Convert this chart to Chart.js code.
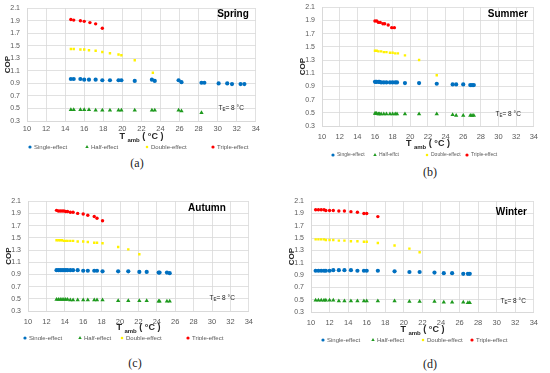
<!DOCTYPE html>
<html>
<head>
<meta charset="utf-8">
<script src="https://cdn.jsdelivr.net/npm/chart.js@4.4.0/dist/chart.umd.min.js"></script>
<style>
    body { margin: 0; background: #fff; width: 550px; height: 373px; position: relative; overflow: hidden; }
    .panel { position: absolute; }
    .cap { position: absolute; font-family: "Liberation Serif", "DejaVu Serif", serif; font-size: 12px; color: #222; transform: translate(-50%, -50%); }
</style>
</head>
<body>
<div class="cap" style="left:137px;top:163px">(a)</div>
<div class="cap" style="left:430px;top:172px">(b)</div>
<div class="cap" style="left:135px;top:363px">(c)</div>
<div class="cap" style="left:430px;top:364px">(d)</div>

<script>
// Axis ticks
const xTicks = [10, 34, 2];      // min, max, step of T amb
const yTicks = [0.3, 2.1, 0.2];  // min, max, step of COP

const seriesNames = ['Single-effect', 'Half-effect', 'Double-effect', 'Triple-effect'];

// Spring (a)
const springSingleT = [14.6, 14.9, 15.6, 16.0, 16.5, 17.2, 17.9, 18.7, 19.6, 19.9, 21.3, 23.1, 23.4, 25.9, 26.2, 28.3, 28.6, 30.1, 31.0, 31.5, 32.4, 32.8];
const springSingleCop = [0.97, 0.97, 0.97, 0.96, 0.96, 0.96, 0.95, 0.95, 0.95, 0.95, 0.94, 0.96, 0.94, 0.95, 0.92, 0.91, 0.91, 0.90, 0.90, 0.89, 0.89, 0.89];
const springHalfT = [14.6, 14.9, 15.6, 16.0, 16.5, 17.2, 17.9, 18.7, 19.6, 19.9, 21.3, 23.1, 23.4, 25.9, 26.2, 28.3];
const springHalfCop = [0.48, 0.48, 0.48, 0.48, 0.48, 0.47, 0.47, 0.47, 0.47, 0.47, 0.47, 0.47, 0.47, 0.47, 0.46, 0.43];
const springDoubleT = [14.6, 14.9, 15.6, 16.0, 16.5, 17.2, 17.9, 18.7, 19.6, 19.9, 21.3, 23.2];
const springDoubleCop = [1.45, 1.45, 1.44, 1.44, 1.43, 1.42, 1.40, 1.38, 1.36, 1.35, 1.27, 1.07];
const springTripleT = [14.6, 14.9, 15.6, 16.0, 16.6, 17.2, 17.9];
const springTripleCop = [1.92, 1.91, 1.90, 1.89, 1.87, 1.85, 1.78];

// Summer (b)
const summerSingleT = [16.0, 16.1, 16.2, 16.4, 16.5, 16.7, 17.0, 17.3, 17.7, 18.0, 18.3, 18.5, 19.4, 21.0, 23.0, 24.8, 25.2, 26.0, 26.8, 27.0, 27.2];
const summerSingleCop = [0.97, 0.97, 0.97, 0.97, 0.97, 0.96, 0.96, 0.96, 0.96, 0.96, 0.96, 0.96, 0.95, 0.95, 0.94, 0.93, 0.93, 0.93, 0.92, 0.92, 0.92];
const summerHalfT = [16.0, 16.1, 16.2, 16.4, 16.5, 16.7, 17.0, 17.3, 17.7, 18.0, 18.3, 18.5, 19.4, 21.0, 23.0, 24.8, 25.2, 26.0, 26.8, 27.0, 27.2];
const summerHalfCop = [0.49, 0.49, 0.49, 0.48, 0.48, 0.48, 0.48, 0.48, 0.48, 0.48, 0.48, 0.48, 0.48, 0.48, 0.48, 0.47, 0.46, 0.46, 0.46, 0.46, 0.46];
const summerDoubleT = [16.0, 16.2, 16.4, 16.7, 17.0, 17.3, 17.7, 18.0, 18.3, 18.6, 19.4, 21.0, 23.0];
const summerDoubleCop = [1.44, 1.44, 1.43, 1.43, 1.42, 1.42, 1.41, 1.41, 1.40, 1.40, 1.37, 1.30, 1.07];
const summerTripleT = [16.0, 16.2, 16.4, 16.6, 16.9, 17.1, 17.5, 17.9, 18.2];
const summerTripleCop = [1.89, 1.89, 1.87, 1.87, 1.85, 1.85, 1.83, 1.79, 1.79];

// Autumn (c)
const autumnSingleT = [13.1, 13.3, 13.5, 13.7, 13.9, 14.1, 14.3, 14.6, 14.9, 15.4, 16.0, 16.5, 17.2, 17.5, 18.1, 19.8, 20.9, 22.1, 22.9, 24.2, 24.3, 25.1, 25.4];
const autumnSingleCop = [0.97, 0.97, 0.97, 0.97, 0.97, 0.97, 0.97, 0.97, 0.97, 0.97, 0.96, 0.96, 0.96, 0.96, 0.95, 0.95, 0.95, 0.94, 0.94, 0.93, 0.93, 0.93, 0.92];
const autumnHalfT = [13.1, 13.3, 13.5, 13.7, 13.9, 14.1, 14.3, 14.6, 14.9, 15.4, 16.0, 16.5, 17.2, 17.5, 18.1, 19.8, 20.9, 22.1, 22.9, 24.2, 24.3, 25.1, 25.4];
const autumnHalfCop = [0.49, 0.49, 0.49, 0.49, 0.49, 0.49, 0.49, 0.48, 0.48, 0.48, 0.48, 0.48, 0.48, 0.48, 0.48, 0.47, 0.47, 0.47, 0.47, 0.46, 0.46, 0.46, 0.46];
const autumnDoubleT = [13.1, 13.3, 13.5, 13.7, 13.9, 14.1, 14.3, 14.6, 14.9, 15.4, 16.0, 16.5, 17.2, 17.5, 18.1, 19.8, 20.9, 22.1];
const autumnDoubleCop = [1.46, 1.46, 1.46, 1.46, 1.45, 1.45, 1.45, 1.45, 1.45, 1.44, 1.44, 1.43, 1.42, 1.42, 1.41, 1.35, 1.31, 1.23];
const autumnTripleT = [13.1, 13.3, 13.5, 13.7, 13.9, 14.1, 14.3, 14.6, 14.9, 15.4, 16.0, 16.5, 17.2, 17.5, 18.1];
const autumnTripleCop = [1.95, 1.94, 1.94, 1.94, 1.94, 1.93, 1.93, 1.92, 1.92, 1.90, 1.89, 1.87, 1.85, 1.82, 1.78];

// Winter (d)
const winterSingleT = [10.5, 10.8, 11.1, 11.4, 11.6, 12.0, 12.4, 13.0, 13.6, 14.3, 15.0, 15.7, 16.0, 17.2, 19.0, 20.6, 21.7, 23.3, 24.3, 25.2, 26.4, 26.9, 27.1];
const winterSingleCop = [0.97, 0.97, 0.97, 0.97, 0.97, 0.97, 0.98, 0.98, 0.98, 0.98, 0.97, 0.97, 0.97, 0.97, 0.96, 0.95, 0.95, 0.94, 0.93, 0.93, 0.92, 0.92, 0.92];
const winterHalfT = [10.5, 10.8, 11.1, 11.4, 11.6, 12.0, 12.4, 13.0, 13.6, 14.3, 15.0, 15.7, 16.0, 17.2, 19.0, 20.6, 21.7, 23.3, 24.3, 25.2, 26.4, 26.9, 27.1];
const winterHalfCop = [0.49, 0.49, 0.49, 0.49, 0.49, 0.49, 0.49, 0.48, 0.48, 0.48, 0.48, 0.48, 0.48, 0.48, 0.48, 0.47, 0.47, 0.47, 0.46, 0.46, 0.46, 0.45, 0.45];
const winterDoubleT = [10.5, 10.8, 11.1, 11.4, 11.6, 12.0, 12.4, 13.0, 13.6, 14.3, 15.0, 15.7, 16.0, 17.2, 19.0, 20.6, 21.7];
const winterDoubleCop = [1.48, 1.48, 1.48, 1.48, 1.47, 1.47, 1.47, 1.46, 1.46, 1.45, 1.45, 1.44, 1.44, 1.42, 1.38, 1.33, 1.27];
const winterTripleT = [10.5, 10.8, 11.1, 11.4, 11.6, 12.0, 12.4, 13.0, 13.6, 14.3, 15.0, 15.7, 16.0, 17.2];
const winterTripleCop = [1.96, 1.96, 1.96, 1.96, 1.95, 1.95, 1.95, 1.94, 1.94, 1.93, 1.92, 1.90, 1.90, 1.85];

const FONT = '"Liberation Sans", Arial, sans-serif';
const TEXT_GREY = '#595959';

// Turn two arrays into scatter points
function pts(xs, ys) {
    return xs.map((x, i) => ({ x: x, y: ys[i] }));
}

// Season label, T_E note, subscripted x title and the legend row
const panelText = {
    id: 'panelText',
    afterDraw(chart, args, opts) {
        const ctx = chart.ctx;
        const a = chart.chartArea;
        ctx.save();
        ctx.textBaseline = 'middle';

        ctx.fillStyle = '#000';
        ctx.font = 'bold 10px ' + FONT;
        ctx.textAlign = 'right';
        ctx.fillText(opts.season, a.right - opts.seasonDx, a.top + opts.seasonDy);

        // T_E= 8 °C
        ctx.fillStyle = '#222';
        ctx.textAlign = 'left';
        const big = '6.5px ' + FONT, small = '4.5px ' + FONT;
        ctx.font = big;
        const wT = ctx.measureText('T').width, wRest = ctx.measureText('= 8 °C').width;
        ctx.font = small;
        const wE = ctx.measureText('E').width;
        let x = a.right - opts.teDx - (wT + wE + wRest);
        const y = a.bottom - opts.teDy;
        ctx.font = big; ctx.fillText('T', x, y); x += wT;
        ctx.font = small; ctx.fillText('E', x, y + 2); x += wE;
        ctx.font = big; ctx.fillText('= 8 °C', x, y);

        // T amb ( °C )
        ctx.fillStyle = '#262626';
        const tBig = 'bold 9px ' + FONT, tSmall = 'bold 6px ' + FONT;
        ctx.font = tBig;
        const w1 = ctx.measureText('T ').width, w3 = ctx.measureText(' ( °C )').width;
        ctx.font = tSmall;
        const w2 = ctx.measureText('amb').width;
        x = (a.left + a.right) / 2 - (w1 + w2 + w3) / 2;
        const ty = a.bottom + opts.titleDy;
        ctx.font = tBig; ctx.fillText('T ', x, ty); x += w1;
        ctx.font = tSmall; ctx.fillText('amb', x, ty + 3); x += w2;
        ctx.font = tBig; ctx.fillText(' ( °C )', x, ty);

        // legend
        const ly = a.bottom + opts.legendDy;
        ctx.font = opts.legendFont + 'px ' + FONT;
        chart.data.datasets.forEach((ds, i) => {
            const mx = a.left + opts.legendX[i];
            ctx.fillStyle = ds.backgroundColor;
            ctx.strokeStyle = ds.backgroundColor;
            Chart.helpers.drawPoint(ctx, {
                pointStyle: ds.pointStyle,
                radius: ds.pointStyle === 'triangle' ? 2 : 1.6,
                borderWidth: 0,
                rotation: 0
            }, mx, ly);
            ctx.fillStyle = TEXT_GREY;
            ctx.fillText(ds.label, mx + 4, ly);
        });
        ctx.restore();
    }
};

// box = [left, top, width, height] of each chart canvas
const panels = [
    { id: 'chartA', box: [3, -3, 260, 153], season: 'Spring', half: 'Half-effect',
      data: [[springSingleT, springSingleCop], [springHalfT, springHalfCop], [springDoubleT, springDoubleCop], [springTripleT, springTripleCop]],
      xHeight: 19, tickPad: 3, titleDy: 16, seasonDx: 7, seasonDy: 6, teDx: 12, teDy: 13,
      legendDy: 26, legendFont: 6, legendX: [3, 60, 120, 186] },
    { id: 'chartB', box: [298, -4, 246, 162], season: 'Summer', half: 'Half-effct',
      data: [[summerSingleT, summerSingleCop], [summerHalfT, summerHalfCop], [summerDoubleT, summerDoubleCop], [summerTripleT, summerTripleCop]],
      xHeight: 22, tickPad: 6, titleDy: 18, seasonDx: 6, seasonDy: 7, teDx: 13, teDy: 12,
      legendDy: 29, legendFont: 5, legendX: [11, 53, 105, 145] },
    { id: 'chartC', box: [4, 190, 255, 150], season: 'Autumn', half: 'Half-effect',
      data: [[autumnSingleT, autumnSingleCop], [autumnHalfT, autumnHalfCop], [autumnDoubleT, autumnDoubleCop], [autumnTripleT, autumnTripleCop]],
      xHeight: 19, tickPad: 6, titleDy: 17, seasonDx: 23, seasonDy: 7, teDx: 14, teDy: 13,
      legendDy: 27, legendFont: 6, legendX: [-3, 52, 94, 160] },
    { id: 'chartD', box: [287, 190, 257, 153], season: 'Winter', half: 'Half-effect',
      data: [[winterSingleT, winterSingleCop], [winterHalfT, winterHalfCop], [winterDoubleT, winterDoubleCop], [winterTripleT, winterTripleCop]],
      xHeight: 21, tickPad: 6, titleDy: 18, seasonDx: 7, seasonDy: 11, teDx: 8, teDy: 11,
      legendDy: 28, legendFont: 6, legendX: [12, 62, 112, 161] }
];

const styles = [
    { color: '#0070C0', pointStyle: 'circle', radius: 2.1 },
    { color: '#1E9A1E', pointStyle: 'triangle', radius: 2.5 },
    { color: '#FFF200', pointStyle: 'rect', radius: 1.7 },
    { color: '#FF0000', pointStyle: 'circle', radius: 1.7 }
];

function makeChart(p) {
    const wrap = document.createElement('div');
    wrap.className = 'panel';
    wrap.style.left = p.box[0] + 'px';
    wrap.style.top = p.box[1] + 'px';
    wrap.style.width = p.box[2] + 'px';
    wrap.style.height = p.box[3] + 'px';
    const canvas = document.createElement('canvas');
    canvas.id = p.id;
    wrap.appendChild(canvas);
    document.body.appendChild(wrap);

    const names = seriesNames.slice();
    names[1] = p.half;

    new Chart(canvas, {
        type: 'scatter',
        data: {
            datasets: p.data.map((d, i) => ({
                label: names[i],
                data: pts(d[0], d[1]),
                backgroundColor: styles[i].color,
                borderColor: styles[i].color,
                borderWidth: 0,
                pointStyle: styles[i].pointStyle,
                pointRadius: styles[i].radius
            }))
        },
        options: {
            responsive: true,
            maintainAspectRatio: false,
            animation: false,
            layout: { padding: { top: 0, right: 6, left: 0, bottom: 10 } },
            plugins: {
                legend: { display: false },
                tooltip: { enabled: false },
                panelText: p
            },
            scales: {
                x: {
                    type: 'linear',
                    min: xTicks[0],
                    max: xTicks[1],
                    afterFit: s => { s.height = p.xHeight; },
                    border: { color: '#d9d9d9' },
                    grid: { color: '#d9d9d9', lineWidth: 0.8, drawTicks: false },
                    ticks: { stepSize: xTicks[2], padding: p.tickPad, color: TEXT_GREY, font: { family: FONT, size: 7.5 } }
                },
                y: {
                    min: yTicks[0],
                    max: yTicks[1],
                    afterFit: s => { s.width = 24; },
                    border: { color: '#d9d9d9' },
                    grid: { color: '#d9d9d9', lineWidth: 0.8, drawTicks: false },
                    title: { display: true, text: 'COP', padding: 0, color: '#262626', font: { family: FONT, size: 8, weight: 'bold' } },
                    ticks: {
                        stepSize: yTicks[2],
                        autoSkip: false,
                        padding: 7,
                        color: TEXT_GREY,
                        font: { family: FONT, size: 7 },
                        callback: v => v.toFixed(1)
                    }
                }
            }
        },
        plugins: [panelText]
    });
}

panels.forEach(makeChart);
</script>
</body>
</html>
